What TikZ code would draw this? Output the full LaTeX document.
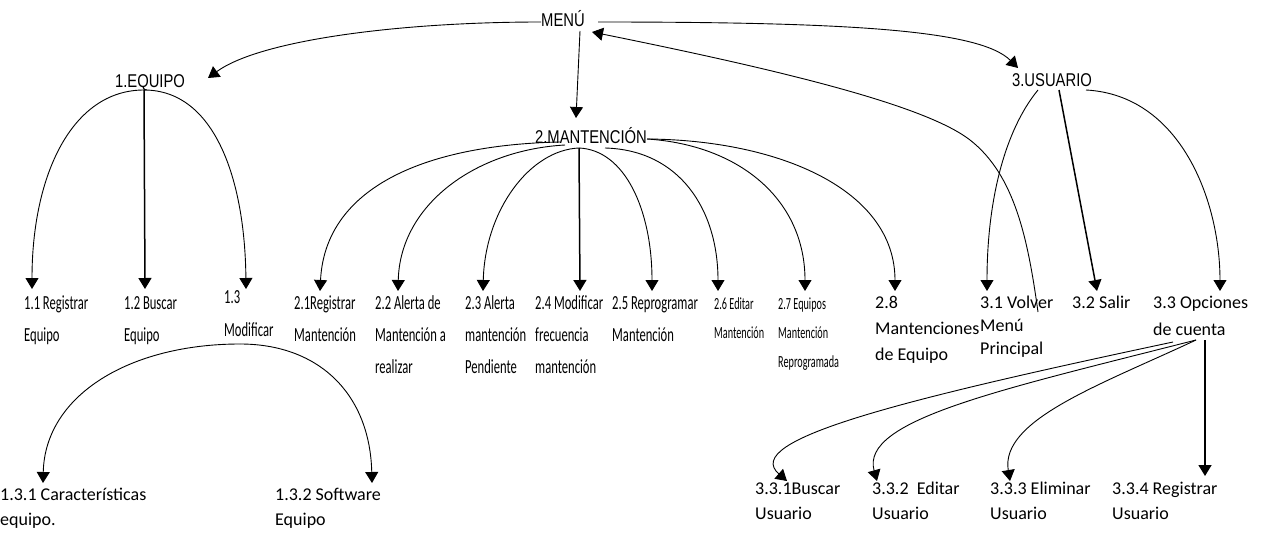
\documentclass[tikz,border=0pt]{standalone}
\usepackage{fontspec}
\setmainfont{Carlito}
\newfontfamily\hfnt[FakeStretch=0.8]{Liberation Sans}
\newfontfamily\cfnt[FakeStretch=0.63]{Carlito}
\newfontfamily\sfnt[FakeStretch=0.6]{Carlito}
\newfontfamily\nfnt{Carlito}
\usetikzlibrary{arrows.meta}
% several lines of a label, first baseline on the node's base
\newcommand\lblines[1]{\begin{tabular}[t]{@{}l@{}}#1\end{tabular}}

\begin{document}
\begin{tikzpicture}[x=1pt,y=-1pt,
  conn/.style={line width=0.9pt},
  arr/.style={conn,-{Triangle[length=11pt,width=13pt]}},
  heavy/.style={arr,line width=1.5pt},
  head/.style={font=\hfnt\fontsize{18.5}{21}\selectfont, inner sep=0pt, anchor=base},
  leafc/.style={font=\cfnt\fontsize{20}{32}\selectfont, inner sep=0pt, anchor=base west},
  leafs/.style={font=\sfnt\fontsize{17}{29}\selectfont, inner sep=0pt, anchor=base west},
  leafn/.style={font=\nfnt\fontsize{18}{25}\selectfont, inner sep=0pt, anchor=base west}
]
\useasboundingbox (0,0) rectangle (1266,535);

% ---- headings
\node[head] (menu)    at (563,27)  {MENÚ};
\node[head] (equipo)  at (150,87)  {1.EQUIPO};
\node[head] (mant)    at (591,143) {2.MANTENCIÓN};
\node[head] (usuario) at (1052,86) {3.USUARIO};

% ---- menu entries
\node[leafc] (l11) at (24,309)  {\lblines{1.1 Registrar\\Equipo}};
\node[leafc] (l12) at (124,309) {\lblines{1.2 Buscar\\Equipo}};
\node[leafc,font=\cfnt\fontsize{20}{33}\selectfont] (l13) at (224,303) {\lblines{1.3\\Modificar}};
\node[leafc] (l21) at (294,309) {\lblines{2.1Registrar\\Mantención}};
\node[leafc] (l22) at (375,309) {\lblines{2.2 Alerta de\\Mantención a\\realizar}};
\node[leafc] (l23) at (465,309) {\lblines{2.3 Alerta\\mantención\\Pendiente}};
\node[leafc] (l24) at (535,309) {\lblines{2.4 Modificar\\frecuencia\\mantención}};
\node[leafc] (l25) at (612,309) {\lblines{2.5 Reprogramar\\Mantención}};
\node[leafs] (l26) at (714,309) {\lblines{2.6 Editar\\Mantención}};
\node[leafs] (l27) at (778,309) {\lblines{2.7 Equipos\\Mantención\\Reprogramada}};
\node[leafn,font=\nfnt\fontsize{18}{26}\selectfont] (l28) at (875,308) {\lblines{2.8\\Mantenciones\\de Equipo}};
\node[leafn,font=\nfnt\fontsize{18}{23}\selectfont] (l31) at (980,308) {\lblines{3.1 Volver\\Menú\\Principal}};
\node[leafn] (l32) at (1072,308) {3.2 Salir};
\node[leafn,font=\nfnt\fontsize{18}{27}\selectfont] (l33) at (1153,308) {\lblines{3.3 Opciones\\de cuenta}};
\node[leafn] (l131) at (0,500)   {\lblines{1.3.1 Características\\equipo.}};
\node[leafn] (l132) at (275,500) {\lblines{1.3.2 Software\\Equipo}};
\node[leafn] (l331) at (755,494) {\lblines{3.3.1Buscar\\Usuario}};
\node[leafn] (l332) at (872,494) {\lblines{3.3.2\ \ Editar\\Usuario}};
\node[leafn] (l333) at (990,494) {\lblines{3.3.3 Eliminar\\Usuario}};
\node[leafn] (l334) at (1112,494) {\lblines{3.3.4 Registrar\\Usuario}};

% ---- attachment points
\coordinate (mL) at (541,22);
\coordinate (mR) at (598,22);
\coordinate (mB) at (580,31);
\coordinate (mIn) at (592,32);
\coordinate (eqIn) at (208,78);
\coordinate (maIn) at (576,118);
\coordinate (usIn) at (1018,68);
\coordinate (eqOut) at (144,90);
\coordinate (maL1) at (560,142);
\coordinate (maL2) at (565,145);
\coordinate (maC) at (579,148);
\coordinate (maR1) at (605,148);
\coordinate (maR2) at (647,139);
\coordinate (usL) at (1038,90);
\coordinate (usC) at (1059,90);
\coordinate (usR) at (1086,90);
\coordinate (volOut) at (1038,312);
\coordinate (volMid) at (970,140);
\coordinate (modOut) at (240,344);
\coordinate (ctaL) at (1173,342);
\coordinate (ctaC) at (1196,340);
\coordinate (ctaR) at (1205,340);
\coordinate (a11) at (32,289);
\coordinate (a12) at (145,289);
\coordinate (a13) at (246,289);
\coordinate (a21) at (320,291);
\coordinate (a22) at (398,291);
\coordinate (a23) at (483,291);
\coordinate (a24) at (580,291);
\coordinate (a25) at (652,291);
\coordinate (a26) at (718,291);
\coordinate (a27) at (805,291);
\coordinate (a28) at (895,291);
\coordinate (a31) at (987,291);
\coordinate (a32) at (1097,291);
\coordinate (a33) at (1220,291);
\coordinate (a131) at (43,483);
\coordinate (a132) at (372,483);
\coordinate (a331) at (787,481);
\coordinate (a332) at (877,481);
\coordinate (a333) at (1010,481);
\coordinate (a334) at (1205,476);

% ---- from the main menu
\draw[arr] (mL) .. controls (400,22) and (260,40) .. (eqIn);
\draw[arr] (mR) .. controls (850,22) and (980,30) .. (usIn);
\draw[arr] (mB) -- (maIn);
\draw[arr] (volOut) .. controls (1028,240) and (1015,175) .. (volMid)
           .. controls (925,105) and (780,70) .. (mIn);

% ---- 1.EQUIPO
\draw[arr] (eqOut) .. controls (72,90) and (32,175) .. (a11);
\draw[heavy] (eqOut) -- (a12);
\draw[arr] (eqOut) .. controls (215,90) and (245,180) .. (a13);
\draw[arr] (modOut) .. controls (130,344) and (45,395) .. (a131);
\draw[arr] (modOut) .. controls (320,344) and (370,395) .. (a132);

% ---- 2.MANTENCIÓN
\draw[arr] (maL1) .. controls (420,145) and (325,190) .. (a21);
\draw[arr] (maL2) .. controls (475,150) and (400,205) .. (a22);
\draw[arr] (maC)  .. controls (530,150) and (485,210) .. (a23);
\draw[heavy] (maC) -- (a24);
\draw[arr] (maC)  .. controls (625,150) and (652,210) .. (a25);
\draw[arr] (maR1) .. controls (680,150) and (718,210) .. (a26);
\draw[arr] (maR2) .. controls (740,145) and (805,200) .. (a27);
\draw[arr] (maR2) .. controls (780,140) and (895,190) .. (a28);

% ---- 3.USUARIO
\draw[arr] (usL) .. controls (1005,130) and (987,200) .. (a31);
\draw[heavy] (usC) -- (a32);
\draw[arr] (usR) .. controls (1180,95) and (1220,200) .. (a33);
\draw[arr] (ctaL) .. controls (900,400) and (740,440) .. (a331);
\draw[arr] (ctaC) .. controls (1000,390) and (860,420) .. (a332);
\draw[arr] (ctaC) .. controls (1100,385) and (1000,420) .. (a333);
\draw[heavy] (ctaR) -- (a334);
\end{tikzpicture}
\end{document}
